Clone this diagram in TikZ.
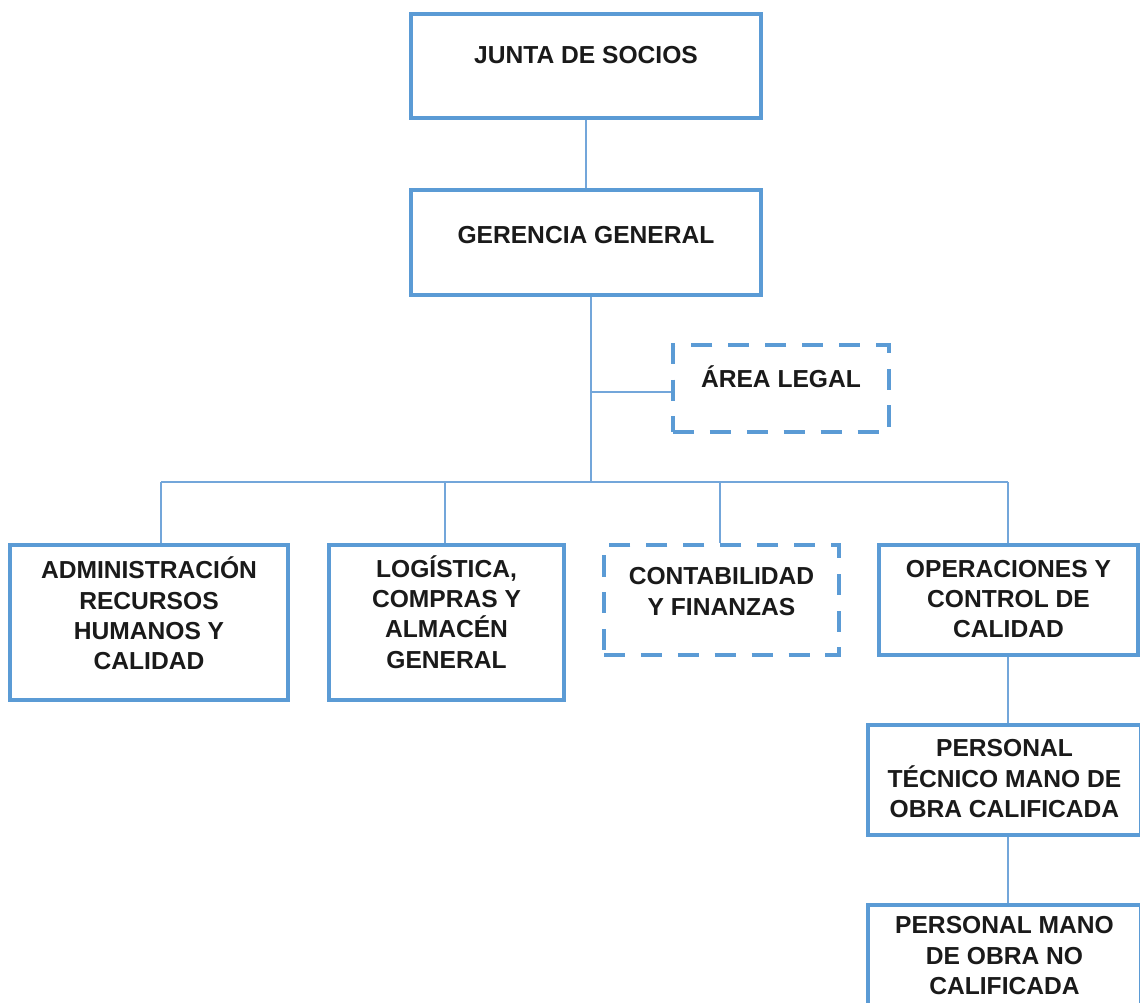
\documentclass[tikz,border=0pt]{standalone}
\usepackage{fontspec}
\setmainfont{Liberation Sans}
\definecolor{boxblue}{HTML}{5B9BD5}
\definecolor{linkblue}{HTML}{73A6DA}
\definecolor{txt}{HTML}{1A1A1A}
\begin{document}
\begin{tikzpicture}[x=0.02cm,y=-0.02cm,
  orgbox/.style={draw=boxblue, line width=2.2pt, rectangle, inner sep=0pt, fill=none},
  dashbox/.style={orgbox, dash pattern=on 12pt off 9pt},
  lbl/.style={anchor=north, align=center, inner sep=0pt, text=txt,
    font=\fontsize{14}{17.2}\selectfont\bfseries},
  conn/.style={draw=linkblue, line width=1.1pt}]
\fill[white] (0,0) rectangle (1140,1003);
\useasboundingbox (0,0) rectangle (1140,1003);
\clip (0,0) rectangle (1140,1003);
\newcommand{\fl}{\rule{0pt}{1em}}
% boxes
\node[orgbox, minimum width=7cm, minimum height=2.08cm] (junta) at (586,66) {};
\node[orgbox, minimum width=7cm, minimum height=2.1cm] (ger) at (586,242.5) {};
\node[dashbox, minimum width=4.32cm, minimum height=1.74cm] (area) at (781,388.5) {};
\node[orgbox, minimum width=5.56cm, minimum height=3.1cm] (admin) at (149,622.5) {};
\node[orgbox, minimum width=4.7cm, minimum height=3.1cm] (log) at (446.5,622.5) {};
\node[dashbox, minimum width=4.7cm, minimum height=2.2cm] (cont) at (721.5,600) {};
\node[orgbox, minimum width=5.18cm, minimum height=2.2cm] (oper) at (1008.5,600) {};
\node[orgbox, minimum width=5.46cm, minimum height=2.2cm] (ptec) at (1004.5,780) {};
\node[orgbox, minimum width=5.46cm, minimum height=2.2cm] (pmano) at (1004.5,960) {};
% labels (north = first baseline - 1em)
\node[lbl] (tjunta) at (586,39) {\fl JUNTA DE SOCIOS};
\node[lbl] (tger) at (586,219) {\fl GERENCIA GENERAL};
\node[lbl] (tarea) at (781,362.5) {\fl ÁREA LEGAL};
\node[lbl] (tadmin) at (149,554) {\fl ADMINISTRACIÓN\\RECURSOS\\HUMANOS Y\\CALIDAD};
\node[lbl] (tlog) at (446.5,552.5) {\fl LOGÍSTICA,\\COMPRAS Y\\ALMACÉN\\GENERAL};
\node[lbl] (tcont) at (721.5,560) {\fl CONTABILIDAD\\Y FINANZAS};
\node[lbl] (toper) at (1008.5,552.5) {\fl OPERACIONES Y\\CONTROL DE\\CALIDAD};
\node[lbl] (tptec) at (1004.5,732) {\fl PERSONAL\\TÉCNICO MANO DE\\OBRA CALIFICADA};
\node[lbl] (tpmano) at (1004.5,909) {\fl PERSONAL MANO\\DE OBRA NO\\CALIFICADA};
% connectors
\coordinate (t) at (591,482);
\coordinate (b1) at (161,482);
\coordinate (b2) at (445,482);
\coordinate (b3) at (720,482);
\coordinate (b4) at (1008,482);
\draw[conn] (junta.south) -- (ger.north);
\draw[conn] (t |- ger.south) -- (t);
\draw[conn] (t |- 0,392) -- (area.west |- 0,392);
\draw[conn] (b1) -- (b4);
\draw[conn] (b1) -- (b1 |- admin.north);
\draw[conn] (b2) -- (b2 |- log.north);
\draw[conn] (b3) -- (b3 |- cont.north);
\draw[conn] (b4) -- (b4 |- oper.north);
\draw[conn] (b4 |- oper.south) -- (b4 |- ptec.north);
\draw[conn] (b4 |- ptec.south) -- (b4 |- pmano.north);
\end{tikzpicture}
\end{document}
